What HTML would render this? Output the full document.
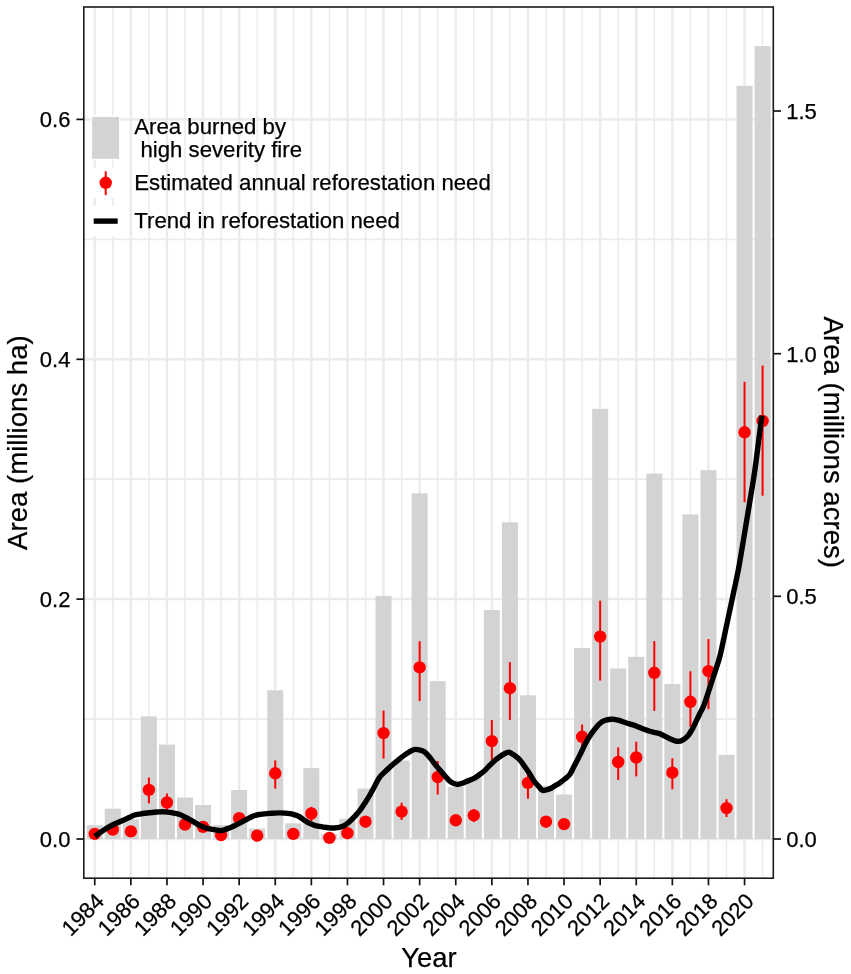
<!DOCTYPE html><html><head><meta charset="utf-8"><style>html,body{margin:0;padding:0;background:#fff}svg{display:block}text{font-family:"Liberation Sans",Arial,Helvetica,sans-serif;stroke:#000;stroke-width:0.25px}</style></head><body>
<svg width="851" height="974" viewBox="0 0 851 974">
<rect width="851" height="974" fill="#fff"/>
<line x1="83.8" x2="773.3" y1="719.1" y2="719.1" stroke="#EBEBEB" stroke-width="1.7"/>
<line x1="83.8" x2="773.3" y1="479.2" y2="479.2" stroke="#EBEBEB" stroke-width="1.7"/>
<line x1="83.8" x2="773.3" y1="239.4" y2="239.4" stroke="#EBEBEB" stroke-width="1.7"/>
<line x1="83.8" x2="773.3" y1="839.0" y2="839.0" stroke="#EBEBEB" stroke-width="2.5"/>
<line x1="83.8" x2="773.3" y1="599.1" y2="599.1" stroke="#EBEBEB" stroke-width="2.5"/>
<line x1="83.8" x2="773.3" y1="359.3" y2="359.3" stroke="#EBEBEB" stroke-width="2.5"/>
<line x1="83.8" x2="773.3" y1="119.4" y2="119.4" stroke="#EBEBEB" stroke-width="2.5"/>
<line x1="94.75" x2="94.75" y1="7.0" y2="878.2" stroke="#EBEBEB" stroke-width="2.4"/>
<line x1="112.80" x2="112.80" y1="7.0" y2="878.2" stroke="#EBEBEB" stroke-width="1.5"/>
<line x1="130.85" x2="130.85" y1="7.0" y2="878.2" stroke="#EBEBEB" stroke-width="2.4"/>
<line x1="148.90" x2="148.90" y1="7.0" y2="878.2" stroke="#EBEBEB" stroke-width="1.5"/>
<line x1="166.95" x2="166.95" y1="7.0" y2="878.2" stroke="#EBEBEB" stroke-width="2.4"/>
<line x1="185.00" x2="185.00" y1="7.0" y2="878.2" stroke="#EBEBEB" stroke-width="1.5"/>
<line x1="203.05" x2="203.05" y1="7.0" y2="878.2" stroke="#EBEBEB" stroke-width="2.4"/>
<line x1="221.10" x2="221.10" y1="7.0" y2="878.2" stroke="#EBEBEB" stroke-width="1.5"/>
<line x1="239.15" x2="239.15" y1="7.0" y2="878.2" stroke="#EBEBEB" stroke-width="2.4"/>
<line x1="257.20" x2="257.20" y1="7.0" y2="878.2" stroke="#EBEBEB" stroke-width="1.5"/>
<line x1="275.25" x2="275.25" y1="7.0" y2="878.2" stroke="#EBEBEB" stroke-width="2.4"/>
<line x1="293.30" x2="293.30" y1="7.0" y2="878.2" stroke="#EBEBEB" stroke-width="1.5"/>
<line x1="311.35" x2="311.35" y1="7.0" y2="878.2" stroke="#EBEBEB" stroke-width="2.4"/>
<line x1="329.40" x2="329.40" y1="7.0" y2="878.2" stroke="#EBEBEB" stroke-width="1.5"/>
<line x1="347.45" x2="347.45" y1="7.0" y2="878.2" stroke="#EBEBEB" stroke-width="2.4"/>
<line x1="365.50" x2="365.50" y1="7.0" y2="878.2" stroke="#EBEBEB" stroke-width="1.5"/>
<line x1="383.55" x2="383.55" y1="7.0" y2="878.2" stroke="#EBEBEB" stroke-width="2.4"/>
<line x1="401.60" x2="401.60" y1="7.0" y2="878.2" stroke="#EBEBEB" stroke-width="1.5"/>
<line x1="419.65" x2="419.65" y1="7.0" y2="878.2" stroke="#EBEBEB" stroke-width="2.4"/>
<line x1="437.70" x2="437.70" y1="7.0" y2="878.2" stroke="#EBEBEB" stroke-width="1.5"/>
<line x1="455.75" x2="455.75" y1="7.0" y2="878.2" stroke="#EBEBEB" stroke-width="2.4"/>
<line x1="473.80" x2="473.80" y1="7.0" y2="878.2" stroke="#EBEBEB" stroke-width="1.5"/>
<line x1="491.85" x2="491.85" y1="7.0" y2="878.2" stroke="#EBEBEB" stroke-width="2.4"/>
<line x1="509.90" x2="509.90" y1="7.0" y2="878.2" stroke="#EBEBEB" stroke-width="1.5"/>
<line x1="527.95" x2="527.95" y1="7.0" y2="878.2" stroke="#EBEBEB" stroke-width="2.4"/>
<line x1="546.00" x2="546.00" y1="7.0" y2="878.2" stroke="#EBEBEB" stroke-width="1.5"/>
<line x1="564.05" x2="564.05" y1="7.0" y2="878.2" stroke="#EBEBEB" stroke-width="2.4"/>
<line x1="582.10" x2="582.10" y1="7.0" y2="878.2" stroke="#EBEBEB" stroke-width="1.5"/>
<line x1="600.15" x2="600.15" y1="7.0" y2="878.2" stroke="#EBEBEB" stroke-width="2.4"/>
<line x1="618.20" x2="618.20" y1="7.0" y2="878.2" stroke="#EBEBEB" stroke-width="1.5"/>
<line x1="636.25" x2="636.25" y1="7.0" y2="878.2" stroke="#EBEBEB" stroke-width="2.4"/>
<line x1="654.30" x2="654.30" y1="7.0" y2="878.2" stroke="#EBEBEB" stroke-width="1.5"/>
<line x1="672.35" x2="672.35" y1="7.0" y2="878.2" stroke="#EBEBEB" stroke-width="2.4"/>
<line x1="690.40" x2="690.40" y1="7.0" y2="878.2" stroke="#EBEBEB" stroke-width="1.5"/>
<line x1="708.45" x2="708.45" y1="7.0" y2="878.2" stroke="#EBEBEB" stroke-width="2.4"/>
<line x1="726.50" x2="726.50" y1="7.0" y2="878.2" stroke="#EBEBEB" stroke-width="1.5"/>
<line x1="744.55" x2="744.55" y1="7.0" y2="878.2" stroke="#EBEBEB" stroke-width="2.4"/>
<line x1="762.60" x2="762.60" y1="7.0" y2="878.2" stroke="#EBEBEB" stroke-width="1.5"/>
<rect x="90.6" y="115.3" width="30" height="44.9" fill="#fff"/>
<rect x="90.6" y="167.6" width="30" height="30.4" fill="#fff"/>
<rect x="90.6" y="205.9" width="30" height="30.1" fill="#fff"/>
<rect x="86.75" y="825.2" width="16.0" height="13.8" fill="#D3D3D3"/>
<rect x="104.80" y="808.7" width="16.0" height="30.3" fill="#D3D3D3"/>
<rect x="122.85" y="819.2" width="16.0" height="19.8" fill="#D3D3D3"/>
<rect x="140.90" y="716.4" width="16.0" height="122.6" fill="#D3D3D3"/>
<rect x="158.95" y="744.6" width="16.0" height="94.4" fill="#D3D3D3"/>
<rect x="177.00" y="797.5" width="16.0" height="41.5" fill="#D3D3D3"/>
<rect x="195.05" y="805.0" width="16.0" height="34.0" fill="#D3D3D3"/>
<rect x="213.10" y="825.0" width="16.0" height="14.0" fill="#D3D3D3"/>
<rect x="231.15" y="790.0" width="16.0" height="49.0" fill="#D3D3D3"/>
<rect x="249.20" y="828.5" width="16.0" height="10.5" fill="#D3D3D3"/>
<rect x="267.25" y="690.3" width="16.0" height="148.7" fill="#D3D3D3"/>
<rect x="285.30" y="823.4" width="16.0" height="15.6" fill="#D3D3D3"/>
<rect x="303.35" y="768.1" width="16.0" height="70.9" fill="#D3D3D3"/>
<rect x="321.40" y="833.9" width="16.0" height="5.1" fill="#D3D3D3"/>
<rect x="339.45" y="818.7" width="16.0" height="20.3" fill="#D3D3D3"/>
<rect x="357.50" y="788.6" width="16.0" height="50.4" fill="#D3D3D3"/>
<rect x="375.55" y="595.9" width="16.0" height="243.1" fill="#D3D3D3"/>
<rect x="393.60" y="760.6" width="16.0" height="78.4" fill="#D3D3D3"/>
<rect x="411.65" y="493.4" width="16.0" height="345.6" fill="#D3D3D3"/>
<rect x="429.70" y="681.2" width="16.0" height="157.8" fill="#D3D3D3"/>
<rect x="447.75" y="786.9" width="16.0" height="52.1" fill="#D3D3D3"/>
<rect x="465.80" y="777.5" width="16.0" height="61.5" fill="#D3D3D3"/>
<rect x="483.85" y="610.0" width="16.0" height="229.0" fill="#D3D3D3"/>
<rect x="501.90" y="522.3" width="16.0" height="316.7" fill="#D3D3D3"/>
<rect x="519.95" y="695.3" width="16.0" height="143.7" fill="#D3D3D3"/>
<rect x="538.00" y="785.8" width="16.0" height="53.2" fill="#D3D3D3"/>
<rect x="556.05" y="794.5" width="16.0" height="44.5" fill="#D3D3D3"/>
<rect x="574.10" y="648.0" width="16.0" height="191.0" fill="#D3D3D3"/>
<rect x="592.15" y="408.9" width="16.0" height="430.1" fill="#D3D3D3"/>
<rect x="610.20" y="668.5" width="16.0" height="170.5" fill="#D3D3D3"/>
<rect x="628.25" y="656.8" width="16.0" height="182.2" fill="#D3D3D3"/>
<rect x="646.30" y="473.5" width="16.0" height="365.5" fill="#D3D3D3"/>
<rect x="664.35" y="684.0" width="16.0" height="155.0" fill="#D3D3D3"/>
<rect x="682.40" y="514.4" width="16.0" height="324.6" fill="#D3D3D3"/>
<rect x="700.45" y="470.2" width="16.0" height="368.8" fill="#D3D3D3"/>
<rect x="718.50" y="754.8" width="16.0" height="84.2" fill="#D3D3D3"/>
<rect x="736.55" y="85.8" width="16.0" height="753.2" fill="#D3D3D3"/>
<rect x="754.60" y="46.1" width="16.0" height="792.9" fill="#D3D3D3"/>
<line x1="148.90" x2="148.90" y1="777.5" y2="803.4" stroke="#FF0000" stroke-width="2.0"/>
<line x1="166.95" x2="166.95" y1="793.5" y2="810" stroke="#FF0000" stroke-width="2.0"/>
<line x1="275.25" x2="275.25" y1="760.4" y2="788.6" stroke="#FF0000" stroke-width="2.0"/>
<line x1="311.35" x2="311.35" y1="806.9" y2="821" stroke="#FF0000" stroke-width="2.0"/>
<line x1="383.55" x2="383.55" y1="710.6" y2="758.7" stroke="#FF0000" stroke-width="2.0"/>
<line x1="401.60" x2="401.60" y1="802.7" y2="820" stroke="#FF0000" stroke-width="2.0"/>
<line x1="419.65" x2="419.65" y1="641.2" y2="701.1" stroke="#FF0000" stroke-width="2.0"/>
<line x1="437.70" x2="437.70" y1="761" y2="794.5" stroke="#FF0000" stroke-width="2.0"/>
<line x1="473.80" x2="473.80" y1="809" y2="822" stroke="#FF0000" stroke-width="2.0"/>
<line x1="491.85" x2="491.85" y1="720" y2="759.9" stroke="#FF0000" stroke-width="2.0"/>
<line x1="509.90" x2="509.90" y1="662.1" y2="720" stroke="#FF0000" stroke-width="2.0"/>
<line x1="527.95" x2="527.95" y1="772" y2="798.7" stroke="#FF0000" stroke-width="2.0"/>
<line x1="582.10" x2="582.10" y1="724.5" y2="748" stroke="#FF0000" stroke-width="2.0"/>
<line x1="600.15" x2="600.15" y1="600.7" y2="680.6" stroke="#FF0000" stroke-width="2.0"/>
<line x1="618.20" x2="618.20" y1="747.3" y2="779.9" stroke="#FF0000" stroke-width="2.0"/>
<line x1="636.25" x2="636.25" y1="741.7" y2="776.4" stroke="#FF0000" stroke-width="2.0"/>
<line x1="654.30" x2="654.30" y1="641.1" y2="710.9" stroke="#FF0000" stroke-width="2.0"/>
<line x1="672.35" x2="672.35" y1="758.3" y2="789.3" stroke="#FF0000" stroke-width="2.0"/>
<line x1="690.40" x2="690.40" y1="671.2" y2="726.9" stroke="#FF0000" stroke-width="2.0"/>
<line x1="708.45" x2="708.45" y1="639.1" y2="709.3" stroke="#FF0000" stroke-width="2.0"/>
<line x1="726.50" x2="726.50" y1="799.2" y2="817" stroke="#FF0000" stroke-width="2.0"/>
<line x1="744.55" x2="744.55" y1="381.8" y2="502.2" stroke="#FF0000" stroke-width="2.0"/>
<line x1="762.60" x2="762.60" y1="365.6" y2="495.7" stroke="#FF0000" stroke-width="2.0"/>
<circle cx="94.75" cy="833.9" r="6.2" fill="#FF0000"/>
<circle cx="112.80" cy="829.5" r="6.2" fill="#FF0000"/>
<circle cx="130.85" cy="831.4" r="6.2" fill="#FF0000"/>
<circle cx="148.90" cy="789.9" r="6.2" fill="#FF0000"/>
<circle cx="166.95" cy="802.5" r="6.2" fill="#FF0000"/>
<circle cx="185.00" cy="824.5" r="6.2" fill="#FF0000"/>
<circle cx="203.05" cy="826.9" r="6.2" fill="#FF0000"/>
<circle cx="221.10" cy="835.1" r="6.2" fill="#FF0000"/>
<circle cx="239.15" cy="818.2" r="6.2" fill="#FF0000"/>
<circle cx="257.20" cy="835.6" r="6.2" fill="#FF0000"/>
<circle cx="275.25" cy="773.3" r="6.2" fill="#FF0000"/>
<circle cx="293.30" cy="833.9" r="6.2" fill="#FF0000"/>
<circle cx="311.35" cy="813.5" r="6.2" fill="#FF0000"/>
<circle cx="329.40" cy="837.9" r="6.2" fill="#FF0000"/>
<circle cx="347.45" cy="833.2" r="6.2" fill="#FF0000"/>
<circle cx="365.50" cy="821.7" r="6.2" fill="#FF0000"/>
<circle cx="383.55" cy="733.1" r="6.2" fill="#FF0000"/>
<circle cx="401.60" cy="811.6" r="6.2" fill="#FF0000"/>
<circle cx="419.65" cy="667.4" r="6.2" fill="#FF0000"/>
<circle cx="437.70" cy="777.1" r="6.2" fill="#FF0000"/>
<circle cx="455.75" cy="820.3" r="6.2" fill="#FF0000"/>
<circle cx="473.80" cy="815.4" r="6.2" fill="#FF0000"/>
<circle cx="491.85" cy="741.1" r="6.2" fill="#FF0000"/>
<circle cx="509.90" cy="688.2" r="6.2" fill="#FF0000"/>
<circle cx="527.95" cy="782.9" r="6.2" fill="#FF0000"/>
<circle cx="546.00" cy="821.7" r="6.2" fill="#FF0000"/>
<circle cx="564.05" cy="824.1" r="6.2" fill="#FF0000"/>
<circle cx="582.10" cy="736.8" r="6.2" fill="#FF0000"/>
<circle cx="600.15" cy="636.6" r="6.2" fill="#FF0000"/>
<circle cx="618.20" cy="762.0" r="6.2" fill="#FF0000"/>
<circle cx="636.25" cy="757.5" r="6.2" fill="#FF0000"/>
<circle cx="654.30" cy="672.8" r="6.2" fill="#FF0000"/>
<circle cx="672.35" cy="772.7" r="6.2" fill="#FF0000"/>
<circle cx="690.40" cy="701.8" r="6.2" fill="#FF0000"/>
<circle cx="708.45" cy="671.1" r="6.2" fill="#FF0000"/>
<circle cx="726.50" cy="808.1" r="6.2" fill="#FF0000"/>
<circle cx="744.55" cy="432.3" r="6.2" fill="#FF0000"/>
<circle cx="762.60" cy="421.0" r="6.2" fill="#FF0000"/>
<path d="M94.8,836.3 C95.5,835.8 97.5,834.4 99.1,833.3 C100.7,832.2 102.6,830.9 104.3,829.8 C106.0,828.7 107.7,827.7 109.4,826.7 C111.1,825.7 112.8,824.8 114.5,824.0 C116.2,823.2 118.0,822.5 119.7,821.7 C121.4,820.9 123.1,820.1 124.8,819.4 C126.5,818.7 128.4,818.0 129.9,817.3 C131.4,816.6 132.5,815.8 134.0,815.3 C135.5,814.8 137.4,814.5 139.1,814.1 C140.8,813.8 142.6,813.4 144.3,813.2 C146.0,813.0 147.7,812.9 149.4,812.7 C151.1,812.5 152.8,812.3 154.5,812.2 C156.2,812.1 158.0,812.0 159.7,811.9 C161.4,811.8 163.1,811.8 164.8,811.9 C166.5,812.0 168.4,812.2 169.9,812.4 C171.4,812.6 172.5,812.9 174.0,813.2 C175.5,813.5 177.4,813.7 179.1,814.3 C180.8,814.9 182.6,815.9 184.3,816.7 C186.0,817.5 187.7,818.3 189.4,819.3 C191.1,820.2 192.8,821.4 194.5,822.4 C196.2,823.4 198.0,824.5 199.7,825.4 C201.4,826.2 203.1,826.9 204.8,827.5 C206.5,828.1 208.4,828.5 209.9,828.9 C211.4,829.3 212.5,829.4 214.0,829.7 C215.5,830.0 217.8,830.4 219.1,830.5 C220.4,830.6 220.8,830.6 221.7,830.5 C222.6,830.4 223.0,830.2 224.3,829.8 C225.6,829.4 227.7,828.7 229.4,828.0 C231.1,827.3 232.8,826.6 234.5,825.8 C236.2,825.0 238.0,824.1 239.7,823.2 C241.4,822.3 243.1,821.2 244.8,820.3 C246.5,819.4 248.4,818.5 249.9,817.7 C251.4,817.0 252.5,816.3 254.0,815.8 C255.5,815.3 257.4,814.8 259.1,814.5 C260.8,814.2 262.6,814.1 264.3,813.9 C266.0,813.7 267.7,813.5 269.4,813.4 C271.1,813.3 272.8,813.2 274.5,813.1 C276.2,813.0 278.0,812.9 279.7,812.9 C281.4,812.9 283.1,813.0 284.8,813.1 C286.5,813.2 288.4,813.4 289.9,813.6 C291.4,813.9 292.5,814.1 294.0,814.6 C295.5,815.1 297.4,815.6 299.1,816.5 C300.8,817.4 302.6,819.1 304.3,820.2 C306.0,821.3 307.7,822.4 309.4,823.2 C311.1,824.1 312.8,824.8 314.5,825.3 C316.2,825.8 318.0,826.1 319.7,826.4 C321.4,826.7 323.1,827.0 324.8,827.3 C326.5,827.5 328.4,827.8 329.9,827.9 C331.4,828.0 332.5,828.1 334.0,828.0 C335.5,827.9 337.4,827.8 339.1,827.4 C340.8,827.0 342.6,826.5 344.3,825.6 C346.0,824.7 347.7,823.2 349.4,821.7 C351.1,820.2 352.8,818.4 354.5,816.6 C356.2,814.8 358.0,812.9 359.7,810.7 C361.4,808.5 363.1,805.8 364.8,803.2 C366.5,800.6 368.4,797.6 369.9,795.0 C371.4,792.4 372.5,790.3 374.0,787.5 C375.5,784.7 377.4,780.5 379.1,778.0 C380.8,775.5 382.6,774.0 384.3,772.3 C386.0,770.6 387.7,769.1 389.4,767.6 C391.1,766.1 392.8,764.6 394.5,763.1 C396.2,761.6 398.0,760.2 399.7,758.8 C401.4,757.4 403.1,756.1 404.8,754.9 C406.5,753.7 408.4,752.5 409.9,751.6 C411.4,750.7 412.5,749.9 414.0,749.6 C415.5,749.3 417.4,749.4 419.1,749.8 C420.8,750.2 422.6,750.6 424.3,751.8 C426.0,753.0 427.7,754.9 429.4,756.9 C431.1,758.9 432.8,761.5 434.5,763.6 C436.2,765.8 438.0,767.8 439.7,769.8 C441.4,771.8 443.1,773.8 444.8,775.7 C446.5,777.6 448.4,780.0 449.9,781.3 C451.4,782.6 452.6,783.0 454.0,783.5 C455.4,784.0 456.4,784.6 458.1,784.4 C459.8,784.2 462.4,783.2 464.3,782.5 C466.2,781.8 467.7,781.1 469.4,780.4 C471.1,779.7 472.8,779.2 474.5,778.2 C476.2,777.2 478.0,775.8 479.7,774.5 C481.4,773.2 483.1,771.9 484.8,770.4 C486.5,768.9 488.4,766.7 489.9,765.2 C491.4,763.7 492.5,762.5 494.0,761.2 C495.5,759.9 497.4,758.4 499.1,757.2 C500.8,756.0 502.7,754.8 504.3,753.9 C505.9,753.0 507.2,751.9 508.9,752.1 C510.6,752.4 512.7,754.1 514.5,755.4 C516.3,756.7 518.0,757.9 519.7,759.8 C521.4,761.7 523.1,764.3 524.8,766.7 C526.5,769.1 528.4,771.7 529.9,774.1 C531.4,776.5 532.5,778.9 534.0,781.0 C535.5,783.1 537.6,785.2 539.1,786.8 C540.6,788.4 541.0,790.0 542.7,790.4 C544.4,790.8 547.4,789.6 549.4,788.9 C551.4,788.2 552.8,787.1 554.5,786.1 C556.2,785.1 558.0,784.2 559.7,783.0 C561.4,781.8 563.1,780.6 564.8,779.1 C566.5,777.6 568.4,776.4 569.9,774.3 C571.4,772.2 572.3,769.8 574.0,766.5 C575.7,763.2 578.2,758.5 580.2,754.4 C582.2,750.3 584.2,745.7 586.3,742.0 C588.3,738.3 590.4,735.1 592.5,732.2 C594.6,729.3 597.2,726.2 598.7,724.5 C600.2,722.8 600.7,722.7 601.7,722.0 C602.7,721.3 603.2,721.0 604.8,720.5 C606.3,720.0 609.5,719.4 611.0,719.2 C612.5,719.0 612.6,719.1 614.0,719.3 C615.4,719.5 617.4,719.9 619.1,720.4 C620.8,720.9 622.6,721.6 624.3,722.2 C626.0,722.8 627.7,723.4 629.4,723.9 C631.1,724.4 632.8,724.8 634.5,725.4 C636.2,726.0 638.0,726.8 639.7,727.5 C641.4,728.2 643.1,728.9 644.8,729.5 C646.5,730.1 648.4,730.8 649.9,731.3 C651.4,731.8 652.5,731.9 654.0,732.3 C655.5,732.6 657.4,732.8 659.1,733.4 C660.8,734.0 662.6,735.0 664.3,735.9 C666.0,736.8 667.7,737.7 669.4,738.5 C671.1,739.3 673.0,740.1 674.5,740.6 C676.0,741.1 676.8,741.5 678.1,741.4 C679.4,741.3 680.7,741.1 682.2,740.3 C683.8,739.5 685.9,737.9 687.4,736.4 C688.9,734.9 689.9,733.0 691.0,731.3 C692.1,729.5 692.7,728.6 694.0,725.9 C695.3,723.2 697.3,718.7 699.0,715.2 C700.7,711.7 702.1,709.9 704.0,705.0 C705.9,700.1 708.5,691.6 710.4,685.8 C712.3,680.0 713.9,675.5 715.5,670.4 C717.1,665.3 718.4,662.5 720.2,655.0 C722.0,647.5 724.3,636.1 726.5,625.7 C728.7,615.4 731.5,602.2 733.5,592.9 C735.5,583.6 736.6,578.9 738.3,570.0 C740.0,561.1 741.7,550.5 743.5,539.6 C745.3,528.7 747.4,516.3 749.3,504.7 C751.2,493.1 753.2,481.4 754.9,469.8 C756.6,458.2 758.2,443.9 759.4,434.9 C760.6,425.9 761.5,418.8 761.9,415.6" fill="none" stroke="#000" stroke-width="5.4" stroke-linejoin="round"/>
<rect x="83.8" y="7.0" width="689.5" height="871.2" fill="none" stroke="#1a1a1a" stroke-width="1.6"/>
<line x1="76.4" x2="83.8" y1="839.0" y2="839.0" stroke="#111" stroke-width="1.7"/>
<text x="70.4" y="846.8" font-size="22" text-anchor="end" fill="#000">0.0</text>
<line x1="76.4" x2="83.8" y1="599.1" y2="599.1" stroke="#111" stroke-width="1.7"/>
<text x="70.4" y="606.9" font-size="22" text-anchor="end" fill="#000">0.2</text>
<line x1="76.4" x2="83.8" y1="359.3" y2="359.3" stroke="#111" stroke-width="1.7"/>
<text x="70.4" y="367.1" font-size="22" text-anchor="end" fill="#000">0.4</text>
<line x1="76.4" x2="83.8" y1="119.4" y2="119.4" stroke="#111" stroke-width="1.7"/>
<text x="70.4" y="127.2" font-size="22" text-anchor="end" fill="#000">0.6</text>
<line x1="773.3" x2="781" y1="839.0" y2="839.0" stroke="#111" stroke-width="1.7"/>
<text x="786.2" y="846.8" font-size="22" fill="#000">0.0</text>
<line x1="773.3" x2="781" y1="596.3" y2="596.3" stroke="#111" stroke-width="1.7"/>
<text x="786.2" y="604.1" font-size="22" fill="#000">0.5</text>
<line x1="773.3" x2="781" y1="353.7" y2="353.7" stroke="#111" stroke-width="1.7"/>
<text x="786.2" y="361.5" font-size="22" fill="#000">1.0</text>
<line x1="773.3" x2="781" y1="111.0" y2="111.0" stroke="#111" stroke-width="1.7"/>
<text x="786.2" y="118.8" font-size="22" fill="#000">1.5</text>
<line x1="94.75" x2="94.75" y1="878.2" y2="885.3" stroke="#111" stroke-width="1.7"/>
<text transform="translate(105.35,902.6) rotate(-45)" font-size="22" text-anchor="end" fill="#000">1984</text>
<line x1="130.85" x2="130.85" y1="878.2" y2="885.3" stroke="#111" stroke-width="1.7"/>
<text transform="translate(141.45,902.6) rotate(-45)" font-size="22" text-anchor="end" fill="#000">1986</text>
<line x1="166.95" x2="166.95" y1="878.2" y2="885.3" stroke="#111" stroke-width="1.7"/>
<text transform="translate(177.55,902.6) rotate(-45)" font-size="22" text-anchor="end" fill="#000">1988</text>
<line x1="203.05" x2="203.05" y1="878.2" y2="885.3" stroke="#111" stroke-width="1.7"/>
<text transform="translate(213.65,902.6) rotate(-45)" font-size="22" text-anchor="end" fill="#000">1990</text>
<line x1="239.15" x2="239.15" y1="878.2" y2="885.3" stroke="#111" stroke-width="1.7"/>
<text transform="translate(249.75,902.6) rotate(-45)" font-size="22" text-anchor="end" fill="#000">1992</text>
<line x1="275.25" x2="275.25" y1="878.2" y2="885.3" stroke="#111" stroke-width="1.7"/>
<text transform="translate(285.85,902.6) rotate(-45)" font-size="22" text-anchor="end" fill="#000">1994</text>
<line x1="311.35" x2="311.35" y1="878.2" y2="885.3" stroke="#111" stroke-width="1.7"/>
<text transform="translate(321.95,902.6) rotate(-45)" font-size="22" text-anchor="end" fill="#000">1996</text>
<line x1="347.45" x2="347.45" y1="878.2" y2="885.3" stroke="#111" stroke-width="1.7"/>
<text transform="translate(358.05,902.6) rotate(-45)" font-size="22" text-anchor="end" fill="#000">1998</text>
<line x1="383.55" x2="383.55" y1="878.2" y2="885.3" stroke="#111" stroke-width="1.7"/>
<text transform="translate(394.15,902.6) rotate(-45)" font-size="22" text-anchor="end" fill="#000">2000</text>
<line x1="419.65" x2="419.65" y1="878.2" y2="885.3" stroke="#111" stroke-width="1.7"/>
<text transform="translate(430.25,902.6) rotate(-45)" font-size="22" text-anchor="end" fill="#000">2002</text>
<line x1="455.75" x2="455.75" y1="878.2" y2="885.3" stroke="#111" stroke-width="1.7"/>
<text transform="translate(466.35,902.6) rotate(-45)" font-size="22" text-anchor="end" fill="#000">2004</text>
<line x1="491.85" x2="491.85" y1="878.2" y2="885.3" stroke="#111" stroke-width="1.7"/>
<text transform="translate(502.45,902.6) rotate(-45)" font-size="22" text-anchor="end" fill="#000">2006</text>
<line x1="527.95" x2="527.95" y1="878.2" y2="885.3" stroke="#111" stroke-width="1.7"/>
<text transform="translate(538.55,902.6) rotate(-45)" font-size="22" text-anchor="end" fill="#000">2008</text>
<line x1="564.05" x2="564.05" y1="878.2" y2="885.3" stroke="#111" stroke-width="1.7"/>
<text transform="translate(574.65,902.6) rotate(-45)" font-size="22" text-anchor="end" fill="#000">2010</text>
<line x1="600.15" x2="600.15" y1="878.2" y2="885.3" stroke="#111" stroke-width="1.7"/>
<text transform="translate(610.75,902.6) rotate(-45)" font-size="22" text-anchor="end" fill="#000">2012</text>
<line x1="636.25" x2="636.25" y1="878.2" y2="885.3" stroke="#111" stroke-width="1.7"/>
<text transform="translate(646.85,902.6) rotate(-45)" font-size="22" text-anchor="end" fill="#000">2014</text>
<line x1="672.35" x2="672.35" y1="878.2" y2="885.3" stroke="#111" stroke-width="1.7"/>
<text transform="translate(682.95,902.6) rotate(-45)" font-size="22" text-anchor="end" fill="#000">2016</text>
<line x1="708.45" x2="708.45" y1="878.2" y2="885.3" stroke="#111" stroke-width="1.7"/>
<text transform="translate(719.05,902.6) rotate(-45)" font-size="22" text-anchor="end" fill="#000">2018</text>
<line x1="744.55" x2="744.55" y1="878.2" y2="885.3" stroke="#111" stroke-width="1.7"/>
<text transform="translate(755.15,902.6) rotate(-45)" font-size="22" text-anchor="end" fill="#000">2020</text>
<text x="428.9" y="967.1" font-size="27.4" text-anchor="middle" fill="#000">Year</text>
<text transform="translate(26.6,442.6) rotate(-90)" font-size="27.6" text-anchor="middle" fill="#000">Area (millions ha)</text>
<text transform="translate(824.3,442.3) rotate(90)" font-size="27.6" text-anchor="middle" fill="#000">Area (millions acres)</text>
<rect x="92.1" y="117.0" width="27" height="41.8" fill="#D3D3D3"/>
<line x1="105.7" x2="105.7" y1="171.3" y2="195.1" stroke="#FF0000" stroke-width="2.0"/>
<circle cx="105.7" cy="182.8" r="6.2" fill="#FF0000"/>
<line x1="93.7" x2="117.7" y1="221.1" y2="221.1" stroke="#000" stroke-width="5.4"/>
<text x="134.3" y="133.7" font-size="22.2" fill="#000">Area burned by</text>
<text x="134.3" y="157.2" font-size="22.2" fill="#000" xml:space="preserve" style="white-space:pre"> high severity fire</text>
<text x="134.3" y="190.2" font-size="22.2" fill="#000">Estimated annual reforestation need</text>
<text x="134.3" y="228.3" font-size="22.2" fill="#000">Trend in reforestation need</text>
</svg></body></html>
